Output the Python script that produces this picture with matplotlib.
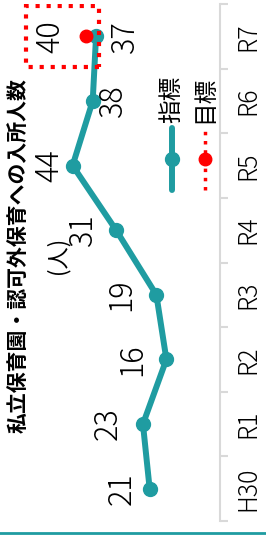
import matplotlib.pyplot as plt
from matplotlib.lines import Line2D
from matplotlib.patches import Rectangle

plt.rcParams['font.family'] = ['Noto Sans CJK JP', 'DejaVu Sans']

# datos
anos = ["H30", "R1", "R2", "R3", "R4", "R5", "R6", "R7"]
indicador = [21, 23, 16, 19, 31, 44, 38, 37]
meta_ano = "R7"
meta = 40

titulo = "私立保育園・認可外保育への入所人数"
unidade = "(人)"

# deslocamento dos rotulos (pixels, horizontal na figura girada)
desloc = [-28, -35, -34, -35, -33, -23, 20, 29]

TEAL = "#1f9ca1"
VERM = "#ff0000"
CINZA = "#d9d9d9"

fig = plt.figure(figsize=(2.66, 5.45), dpi=100)
ax = fig.add_axes([19 / 266, 24 / 545, 201 / 266, 517 / 545])

pos = list(range(len(anos)))

# o grafico esta girado 90 graus: valores no eixo x (invertido), anos no eixo y
ax.plot(indicador, pos, color=TEAL, linewidth=4.3, marker='o', markersize=10,
        solid_capstyle='round', zorder=3)

i_meta = anos.index(meta_ano)
ax.plot([meta], [i_meta], color=VERM, linestyle=':', linewidth=2.5, marker='o',
        markersize=9, zorder=4)

for i in range(len(anos)):
    ax.annotate(str(indicador[i]), (indicador[i], pos[i]), xytext=(desloc[i], 0),
                textcoords='offset pixels', rotation=90, ha='center', va='center',
                fontsize=22, fontweight='light', color='black')

ax.annotate(str(meta), (meta, i_meta), xytext=(-36, 0), textcoords='offset pixels',
            rotation=90, ha='center', va='center', fontsize=22,
            fontweight='light', color='black')

# caixa pontilhada em volta da meta
ax.add_patch(Rectangle((meta - 4, i_meta - 0.47), 22, 0.94, fill=False,
                       edgecolor=VERM, linestyle=':', linewidth=3, zorder=5))

ax.set_xlim(60, 0)
ax.set_ylim(-0.5, len(anos) - 0.5)

for s in ['left', 'top', 'bottom']:
    ax.spines[s].set_visible(False)
ax.spines['right'].set_color(CINZA)
ax.spines['right'].set_linewidth(1.5)

ax.set_xticks([])
ax.yaxis.tick_right()
ax.set_yticks([p - 0.5 for p in pos] + [len(anos) - 0.5])
ax.set_yticklabels([])
ax.set_yticks(pos, minor=True)
ax.set_yticklabels(anos, minor=True, rotation=90, va='center', fontsize=18,
                   fontweight='light')
ax.tick_params(axis='y', which='major', length=6, width=1.5, color=CINZA)
ax.tick_params(axis='y', which='minor', length=0, pad=11)

# legenda manual (girada)
ax.add_artist(Line2D([0.761, 0.761], [0.64, 0.76], transform=ax.transAxes,
                     color=TEAL, linewidth=4.3, solid_capstyle='round'))
ax.add_artist(Line2D([0.761], [0.70], transform=ax.transAxes, color=TEAL,
                     marker='o', markersize=10))
ax.text(0.761, 0.77, "指標", transform=ax.transAxes, rotation=90,
        ha='center', va='bottom', fontsize=17)
ax.add_artist(Line2D([0.925, 0.925], [0.64, 0.76], transform=ax.transAxes,
                     color=VERM, linewidth=2.5, linestyle=':'))
ax.add_artist(Line2D([0.925], [0.70], transform=ax.transAxes, color=VERM,
                     marker='o', markersize=9))
ax.text(0.925, 0.77, "目標", transform=ax.transAxes, rotation=90,
        ha='center', va='bottom', fontsize=17)

fig.text(18 / 266, 1 - 256 / 545, titulo, rotation=90, ha='center', va='center',
         fontsize=15, fontweight='bold')
fig.text(58 / 266, 1 - 255 / 545, unidade, rotation=90, ha='center', va='center',
         fontsize=16)

fig.add_artist(Line2D([0, 1], [1 - 533 / 545, 1 - 533 / 545], color=TEAL,
                      linewidth=2))

fig.savefig("out.png", dpi=100)
